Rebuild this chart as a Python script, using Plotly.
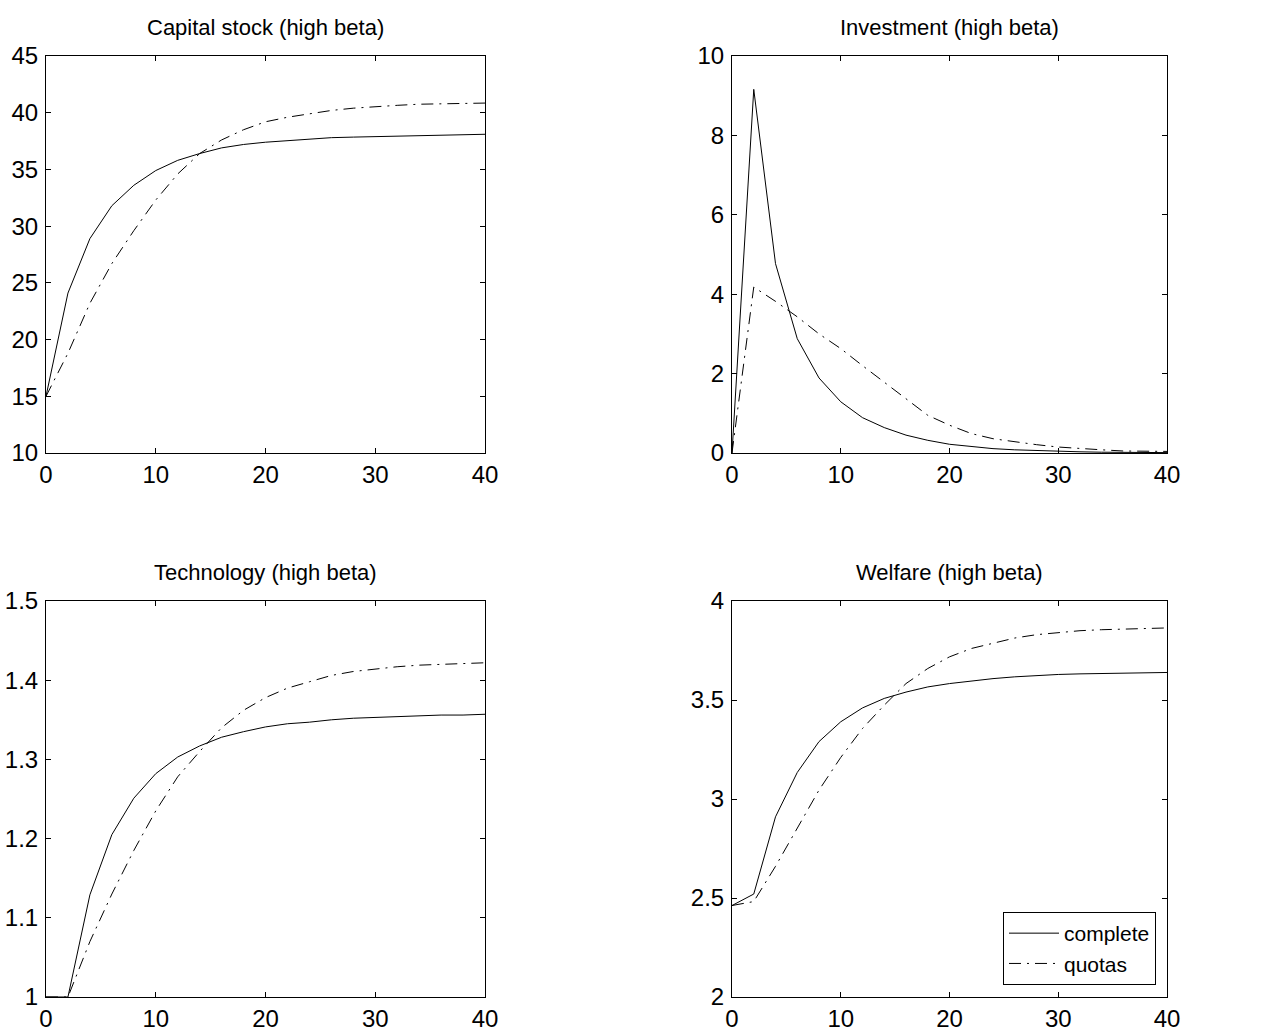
import plotly.graph_objects as go

x = list(range(0, 41, 2))

capital_complete = [15.0, 24.1, 28.9, 31.8, 33.6, 34.9, 35.8, 36.4, 36.9, 37.2, 37.4, 37.55, 37.7, 37.8,
                    37.85, 37.9, 37.95, 38.0, 38.0, 38.05, 38.1]
capital_quotas = [15.0, 18.8, 23.2, 26.7, 29.6, 32.3, 34.6, 36.4, 37.6, 38.5, 39.2, 39.6, 39.9, 40.2,
                  40.4, 40.55, 40.65, 40.75, 40.8, 40.85, 40.85]

invest_complete = [0.0, 9.16, 4.77, 2.88, 1.89, 1.29, 0.89, 0.64, 0.45, 0.32, 0.22, 0.17, 0.11, 0.08,
                   0.06, 0.04, 0.03, 0.02, 0.02, 0.01, 0.01]
invest_quotas = [0.0, 4.18, 3.82, 3.43, 3.0, 2.63, 2.2, 1.79, 1.37, 0.95, 0.70, 0.49, 0.36, 0.28,
                 0.21, 0.15, 0.11, 0.08, 0.05, 0.04, 0.04]

tech_complete = [1.0, 1.0, 1.129, 1.205, 1.251, 1.282, 1.303, 1.317, 1.328, 1.335, 1.341, 1.345, 1.347,
                 1.350, 1.352, 1.353, 1.354, 1.355, 1.356, 1.356, 1.357]
tech_quotas = [1.0, 1.0, 1.07, 1.13, 1.185, 1.235, 1.278, 1.31, 1.34, 1.362, 1.378, 1.39, 1.398, 1.406,
               1.411, 1.414, 1.417, 1.419, 1.420, 1.421, 1.422]

welfare_complete = [2.462, 2.52, 2.91, 3.134, 3.29, 3.39, 3.46, 3.508, 3.54, 3.566, 3.583, 3.597, 3.608,
                    3.617, 3.624, 3.629, 3.632, 3.634, 3.636, 3.638, 3.639]
welfare_quotas = [2.462, 2.482, 2.66, 2.85, 3.045, 3.21, 3.356, 3.474, 3.583, 3.659, 3.718, 3.76, 3.788,
                  3.813, 3.83, 3.84, 3.85, 3.855, 3.859, 3.862, 3.864]

titles = ["Capital stock (high beta)", "Investment (high beta)",
          "Technology (high beta)", "Welfare (high beta)"]
series_names = ["complete", "quotas"]

x_ticks = [0, 10, 20, 30, 40]
y_ticks = [
    [10, 15, 20, 25, 30, 35, 40, 45],
    [0, 2, 4, 6, 8, 10],
    [1, 1.1, 1.2, 1.3, 1.4, 1.5],
    [2, 2.5, 3, 3.5, 4],
]
y_tick_text = [
    ["10", "15", "20", "25", "30", "35", "40", "45"],
    ["0", "2", "4", "6", "8", "10"],
    ["1", "1.1", "1.2", "1.3", "1.4", "1.5"],
    ["2", "2.5", "3", "3.5", "4"],
]
y_ranges = [[10, 45], [0, 10], [1, 1.5], [2, 4]]

data = [
    (capital_complete, capital_quotas),
    (invest_complete, invest_quotas),
    (tech_complete, tech_quotas),
    (welfare_complete, welfare_quotas),
]

W, H = 1264, 1036
# pixel boxes of the plot areas (left, right, top, bottom)
boxes = [(46, 485, 56, 453), (732, 1167, 56, 453), (46, 485, 601, 997), (732, 1167, 601, 997)]

FONT = "Liberation Sans, Arial, sans-serif"
DASHDOT = "12px,6px,2px,6px"

fig = go.Figure()
layout = dict(
    width=W, height=H,
    margin=dict(l=0, r=0, t=0, b=0, autoexpand=False),
    paper_bgcolor="white", plot_bgcolor="white",
    font=dict(family=FONT, color="black", size=24),
    showlegend=True,
    annotations=[],
)

for i, (c, q) in enumerate(data):
    n = i + 1
    xa = "x" if n == 1 else f"x{n}"
    ya = "y" if n == 1 else f"y{n}"
    fig.add_trace(go.Scatter(x=x, y=c, mode="lines", name=series_names[0],
                             line=dict(color="black", width=1),
                             xaxis=xa, yaxis=ya, showlegend=(n == 4), cliponaxis=True))
    fig.add_trace(go.Scatter(x=x, y=q, mode="lines", name=series_names[1],
                             line=dict(color="black", width=1, dash=DASHDOT),
                             xaxis=xa, yaxis=ya, showlegend=(n == 4), cliponaxis=True))
    l, r, t, b = boxes[i]
    axis_common = dict(
        showgrid=False, zeroline=False, showline=True, linecolor="black", linewidth=1,
        mirror="ticks", ticks="inside", ticklen=5, tickcolor="black", tickwidth=1,
        tickfont=dict(family=FONT, size=24, color="black"), automargin=False,
    )
    layout[f"xaxis{'' if n == 1 else n}"] = dict(
        domain=[l / W, r / W], range=[0, 40], tickvals=x_ticks,
        ticktext=[str(v) for v in x_ticks], anchor=ya, ticklabelstandoff=0, **axis_common)
    layout[f"yaxis{'' if n == 1 else n}"] = dict(
        domain=[1 - b / H, 1 - t / H], range=y_ranges[i], tickvals=y_ticks[i],
        ticktext=y_tick_text[i], anchor=xa, ticklabelstandoff=2, **axis_common)
    layout["annotations"].append(dict(
        text=titles[i], xref="paper", yref="paper",
        x=(l + r) / 2 / W, y=1 - (t - 14) / H, xanchor="center", yanchor="bottom",
        showarrow=False, font=dict(family=FONT, size=22, color="black")))

layout["legend"] = dict(
    x=1156 / W, y=1 - 985 / H, xanchor="right", yanchor="bottom",
    bgcolor="white", bordercolor="black", borderwidth=1,
    font=dict(family=FONT, size=21, color="black"),
    tracegroupgap=0, itemwidth=50,
)

fig.update_layout(**layout)
fig.write_html("out.html", config={"displayModeBar": False},
               post_script="document.body.style.margin='0';document.body.style.overflow='hidden';")
